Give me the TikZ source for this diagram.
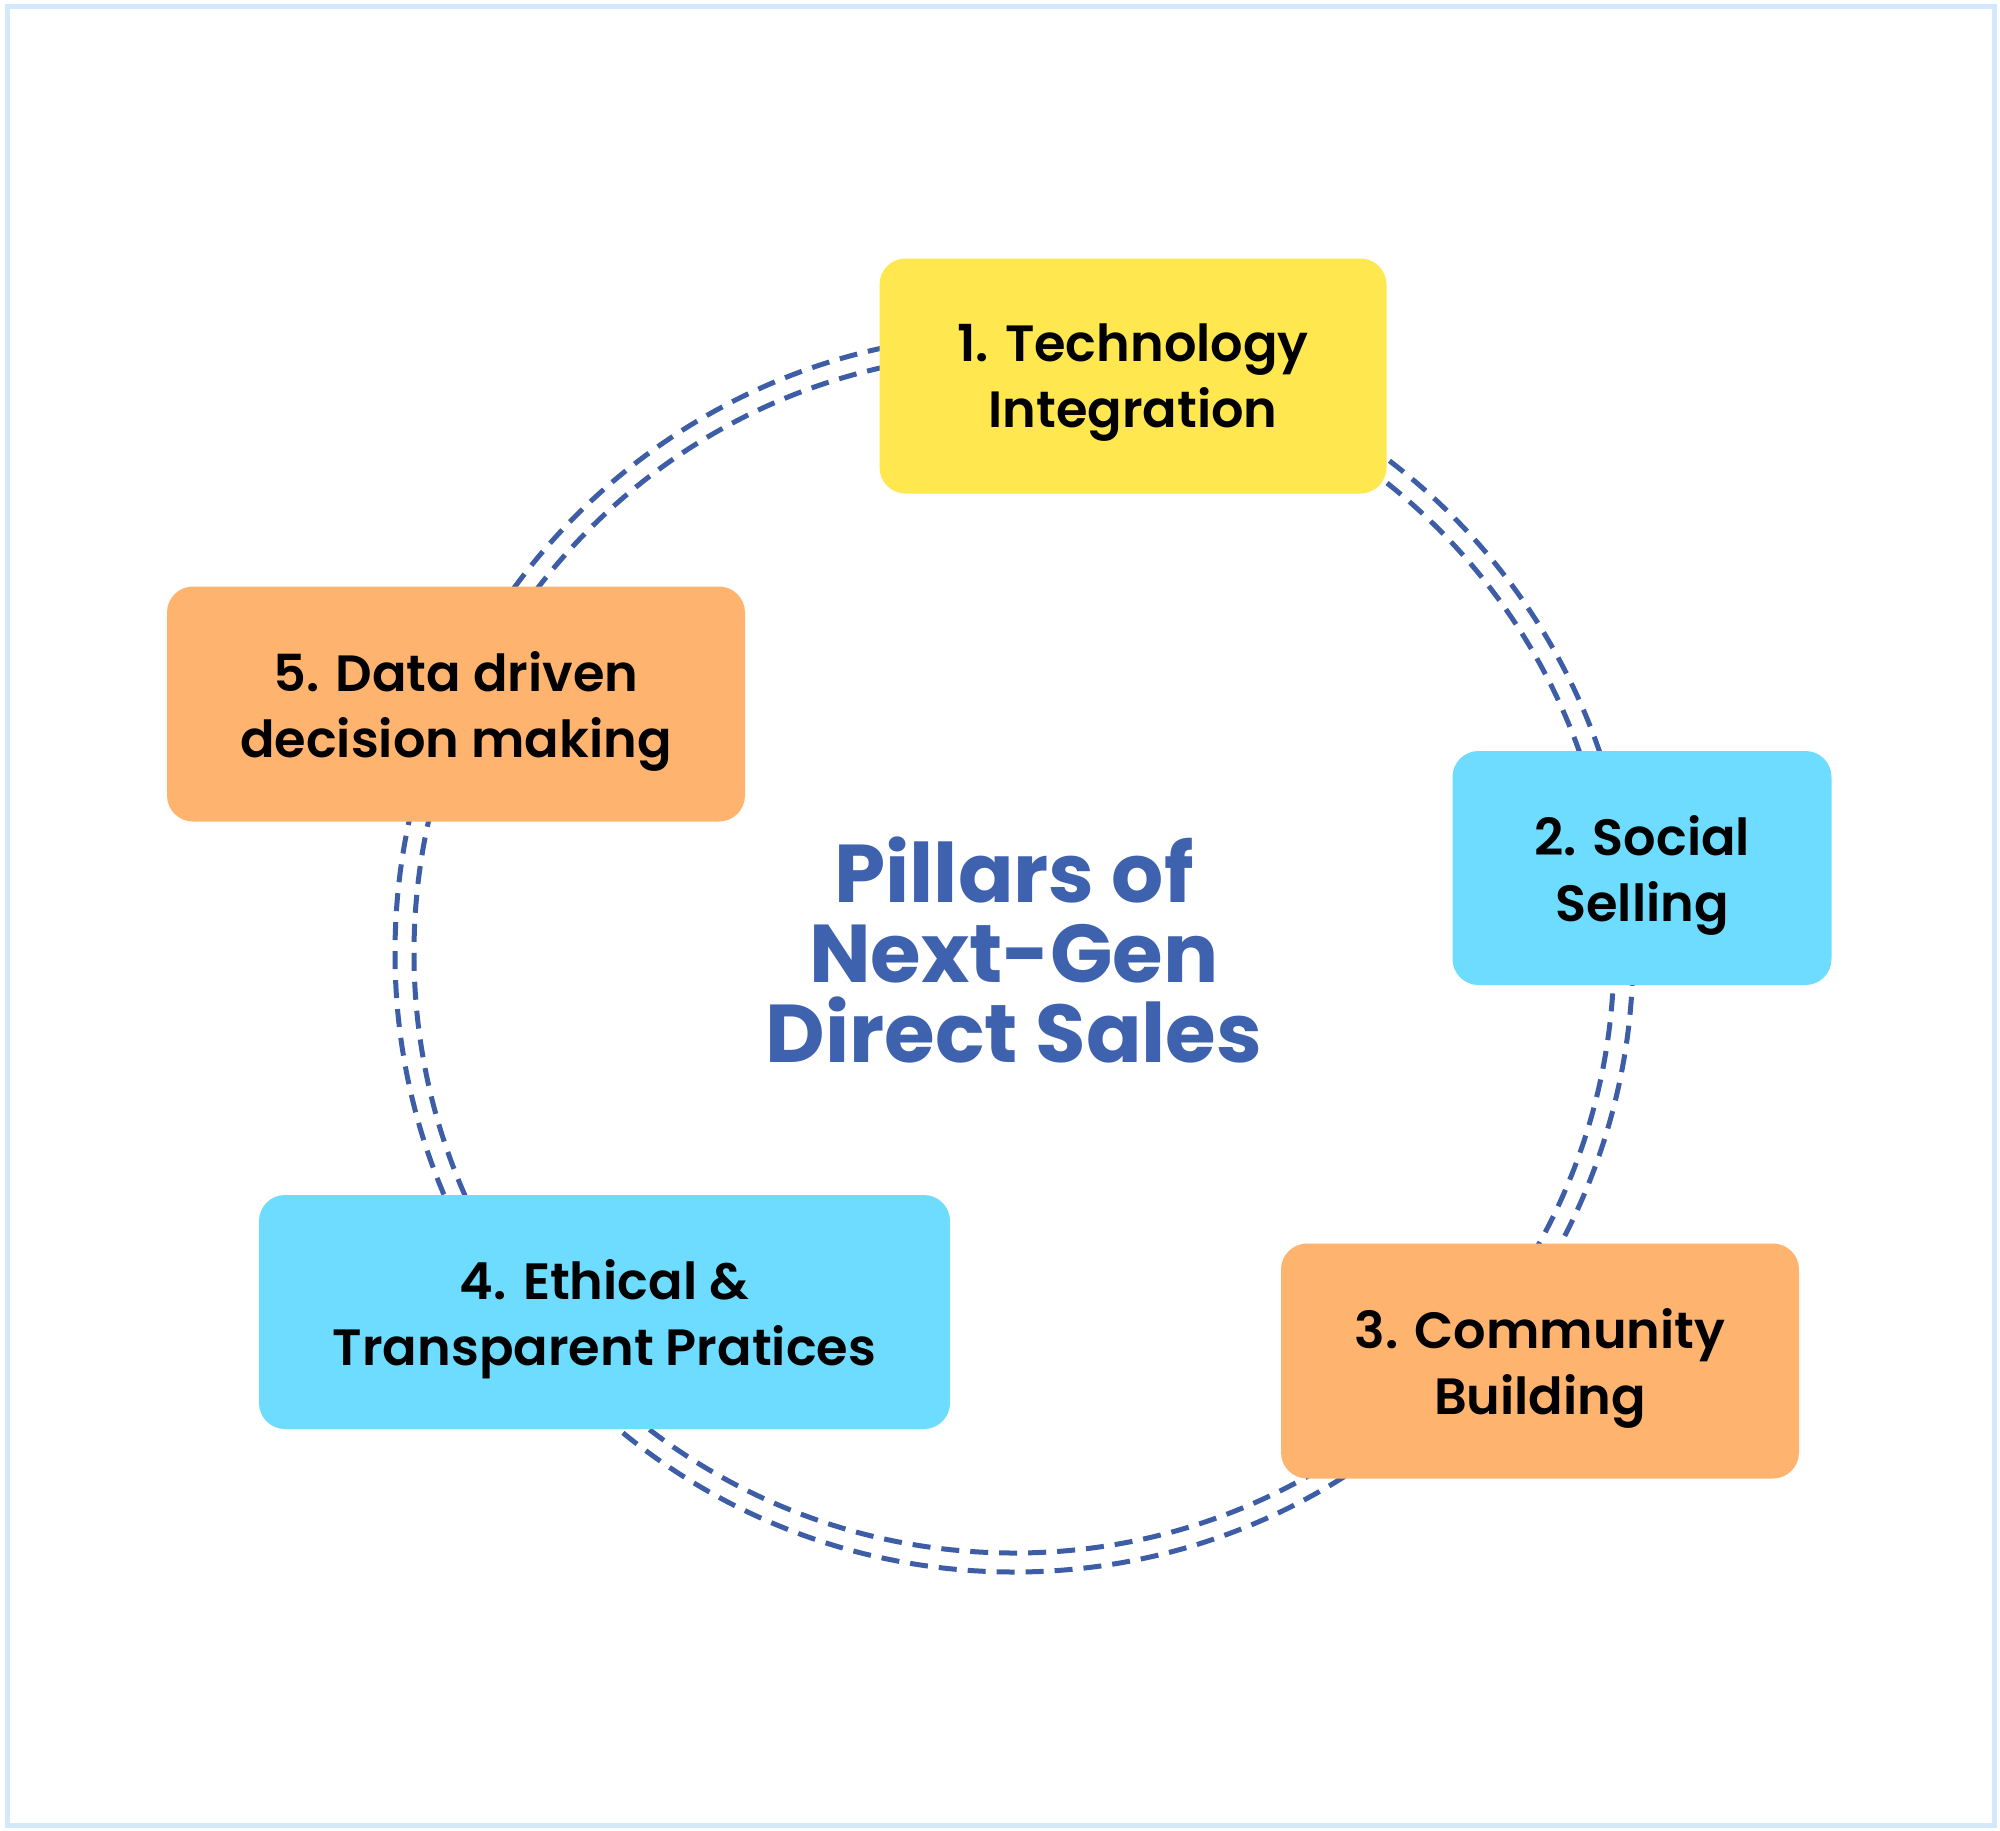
\documentclass[tikz,border=0pt]{standalone}
\usepackage{fontspec}
\setmainfont{Poppins}
\newfontfamily\semib{Poppins SemiBold}
\newfontfamily\boldp{Poppins Bold}
\definecolor{yel}{HTML}{FEE74F}
\definecolor{cyn}{HTML}{6DDCFE}
\definecolor{org}{HTML}{FEB36E}
\definecolor{dashblue}{HTML}{3D5DA6}
\definecolor{titleblue}{HTML}{3F62AE}
\definecolor{frame}{HTML}{D3E8FA}
\tikzset{
  pillar/.style={rounded corners=26pt, inner sep=0pt},
  pillartext/.style={align=center, inner sep=0pt, yshift=-7pt,
    font=\semib\fontsize{51}{66}\selectfont, text=black},
  ring/.style={draw=dashblue, line width=5pt, dash pattern=on 18pt off 11pt},
}
\begin{document}
\begin{tikzpicture}[x=1pt,y=-1pt]
\useasboundingbox (0,0) rectangle (2000,1831);
\fill[white] (0,0) rectangle (2000,1831);
\draw[frame, line width=5pt] (7,6) rectangle (1994,1825);
\coordinate (c) at (1014,953);
\draw[ring] (c) circle[radius=619pt];
\draw[ring] (c) circle[radius=600pt];
\node[pillar, fill=yel, minimum width=507pt, minimum height=235pt] (p1) at (1133,376) {};
\node[pillartext] (t1) at (p1.center) {1. Technology\\Integration};
\node[pillar, fill=cyn, minimum width=379pt, minimum height=234pt] (p2) at (1642,868) {};
\node[pillartext] (t2) at (p2.center) {2. Social\\Selling};
\node[pillar, fill=org, minimum width=518pt, minimum height=235pt] (p3) at (1540,1361) {};
\node[pillartext] (t3) at (p3.center) {3. Community\\Building};
\node[pillar, fill=cyn, minimum width=691pt, minimum height=234pt] (p4) at (604.5,1312) {};
\node[pillartext] (t4) at (p4.center) {4. Ethical \&\\Transparent Pratices};
\node[pillar, fill=org, minimum width=578pt, minimum height=235pt] (p5) at (456,704) {};
\node[pillartext] (t5) at (p5.center) {5. Data driven\\decision making};
\node[align=center, text=titleblue, font=\boldp\fontsize{82}{80}\selectfont] (title) at (1014,950) {Pillars of\\Next-Gen\\Direct Sales};
\end{tikzpicture}
\end{document}
